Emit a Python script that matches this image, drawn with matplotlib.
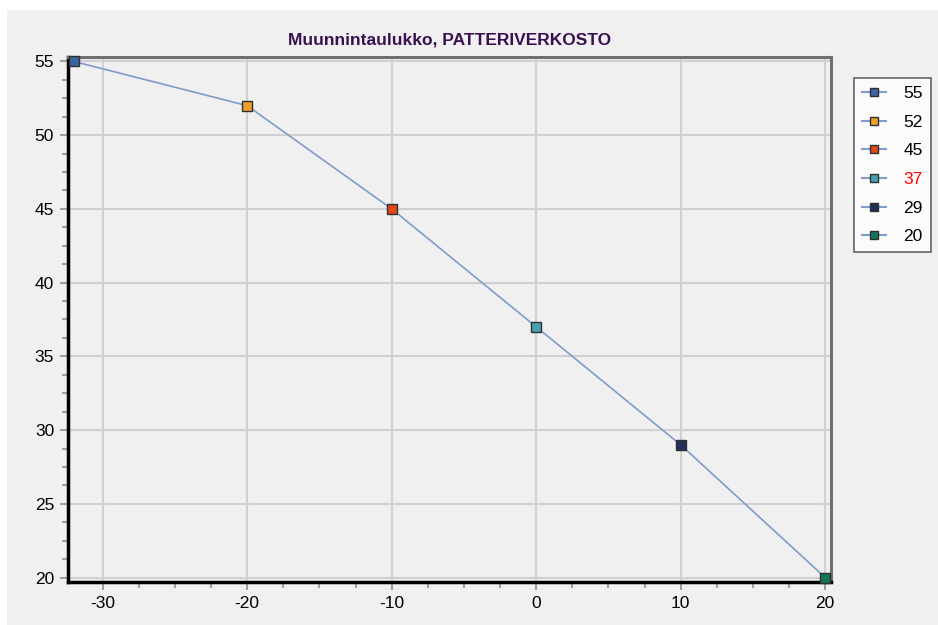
import matplotlib.pyplot as plt
from matplotlib.patches import Rectangle
from matplotlib.ticker import MultipleLocator

plt.rcParams['font.family'] = ['Liberation Sans', 'DejaVu Sans']
plt.rcParams['axes.unicode_minus'] = False

# conversion table points
outdoor = [-32, -20, -10, 0, 10, 20]
supply = [55, 52, 45, 37, 29, 20]
labels = ["55", "52", "45", "37", "29", "20"]
colors = ["#3c64a0", "#f0a028", "#e04818", "#48a0b0", "#203058", "#107858"]
label_colors = ["black", "black", "black", "red", "black", "black"]

fig = plt.figure(figsize=(9.38, 6.25), dpi=100)
fig.patch.set_facecolor("white")
fig.patches.append(Rectangle((7 / 938, 0), 1, 1 - 10 / 625, transform=fig.transFigure,
                             facecolor="#f0f0f0", edgecolor="none", zorder=-10))

ax = fig.add_axes([68 / 938, 43 / 625, 763 / 938, 525 / 625])
ax.set_facecolor("#f0f0f0")

ax.plot(outdoor, supply, color="#7f9ccc", linewidth=1.2, zorder=2)
for x, y, lab, c in zip(outdoor, supply, labels, colors):
    ax.plot([x], [y], marker="s", markersize=7, markerfacecolor=c,
            markeredgecolor="#303030", markeredgewidth=1.0, color="#7f9ccc",
            linewidth=1.5, linestyle="-", label=lab, zorder=3, clip_on=False)

ax.set_xlim(-32.4, 20.4)
ax.set_ylim(19.7, 55.3)
ax.xaxis.set_major_locator(MultipleLocator(10))
ax.xaxis.set_minor_locator(MultipleLocator(2.5))
ax.yaxis.set_major_locator(MultipleLocator(5))
ax.yaxis.set_minor_locator(MultipleLocator(1.25))
ax.grid(True, which="major", color="#d0d0d0", linewidth=1.5)
ax.set_axisbelow(True)

for side in ["left", "bottom"]:
    ax.spines[side].set_color("black")
    ax.spines[side].set_linewidth(2.5)
for side in ["top", "right"]:
    ax.spines[side].set_color("#707070")
    ax.spines[side].set_linewidth(2.2)

ax.tick_params(which="both", color="#a0a0a0", width=1.5, labelsize=12.5)
ax.tick_params(which="major", length=6, pad=4)
ax.tick_params(which="minor", length=4)

ax.set_title("Muunnintaulukko, PATTERIVERKOSTO", fontsize=12.5, fontweight="bold",
             color="#3a1050", pad=9)

leg = ax.legend(loc="upper left", bbox_to_anchor=(1.03, 0.96), frameon=True,
                fancybox=False, edgecolor="#404040", fontsize=12.5,
                handlelength=1.4, handletextpad=1.0, labelspacing=0.78,
                borderpad=0.45, markerscale=0.85, borderaxespad=0)
leg.get_frame().set_linewidth(1.2)
for t, c in zip(leg.get_texts(), label_colors):
    t.set_color(c)

fig.savefig("out.png", dpi=100)
